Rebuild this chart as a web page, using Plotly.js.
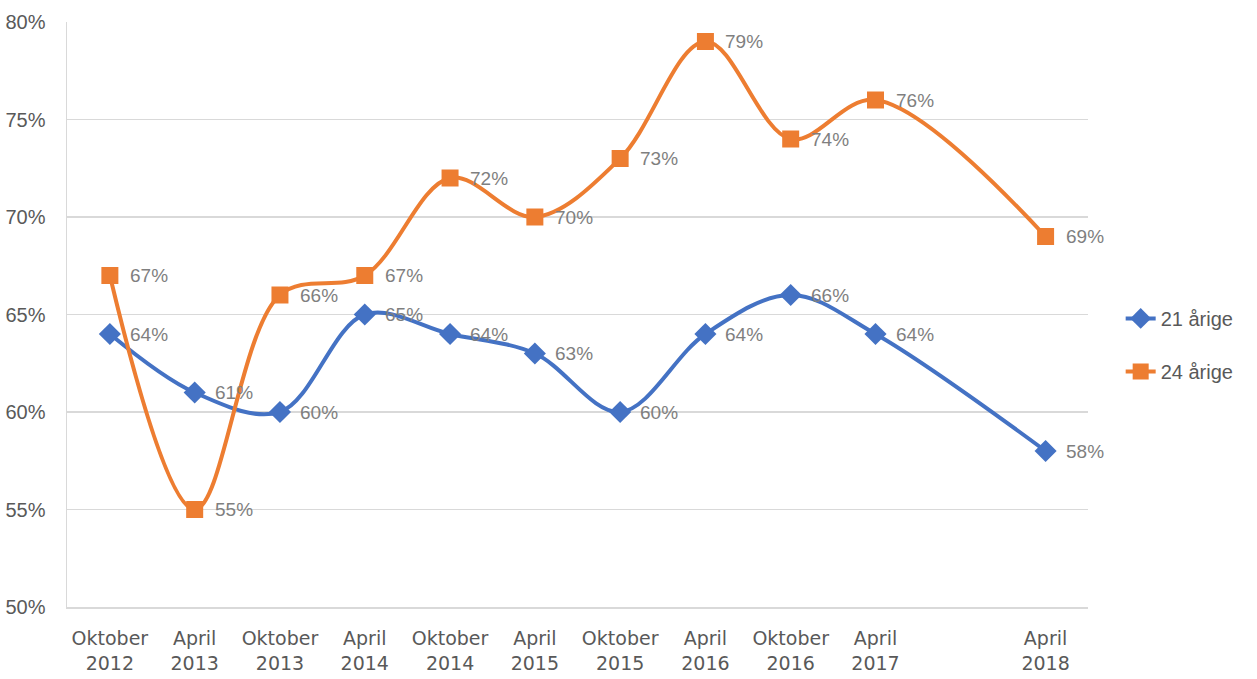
<!DOCTYPE html>
<html>
<head>
<meta charset="utf-8">
<script src="https://cdn.plot.ly/plotly-3.0.1.min.js"></script>
<style>html,body{margin:0;padding:0;background:#fff;}#chart{width:1257px;height:679px;}</style>
</head>
<body>
<div id="chart"></div>
<script>
const dates = ['2012-10-01','2013-04-01','2013-10-01','2014-04-01','2014-10-01','2015-04-01','2015-10-01','2016-04-01','2016-10-01','2017-04-01','2018-04-01'];
const tickLabels = ['Oktober<br>2012','April<br>2013','Oktober<br>2013','April<br>2014','Oktober<br>2014','April<br>2015','Oktober<br>2015','April<br>2016','Oktober<br>2016','April<br>2017','April<br>2018'];
const s21Name = '21 årige';
const s24Name = '24 årige';
const s21 = [64,61,60,65,64,63,60,64,66,64,58];
const s24 = [67,55,66,67,72,70,73,79,74,76,69];
const yTicks = [50,55,60,65,70,75,80];

const blue = '#4472C4', orange = '#ED7D31';
const labFont = {family:'"Liberation Sans", sans-serif', size:19, color:'#7f7f7f'};

const traces = [
  {x:dates, y:s21, name:s21Name, legendgroup:'a', mode:'lines+markers', line:{color:blue, width:4, shape:'spline', smoothing:1},
   marker:{symbol:'diamond', size:17, color:blue}},
  {x:dates, y:s24, name:s24Name, legendgroup:'b', mode:'lines+markers', line:{color:orange, width:4, shape:'spline', smoothing:1},
   marker:{symbol:'square', size:17, color:orange}}
];

const annotations = [];
[s21, s24].forEach(arr => arr.forEach((v,i) => {
  annotations.push({x:dates[i], y:v, text:v+'%', showarrow:false, xanchor:'left', yanchor:'middle', xshift:18, font:labFont});
}));

const layout = {
  width:1257, height:679,
  margin:{l:67, r:169, t:22, b:72},
  paper_bgcolor:'#fff', plot_bgcolor:'#fff',
  showlegend:true,
  legend:{x:1.032, y:0.448, xanchor:'left', yanchor:'middle', traceorder:'grouped', tracegroupgap:24,
    font:{family:'"Liberation Sans", sans-serif', size:20, color:'#595959'}},
  xaxis:{type:'date', range:['2012-07-01','2018-07-01'], tickmode:'array', tickvals:dates, ticktext:tickLabels,
    showgrid:false, showline:true, linecolor:'#d9d9d9', linewidth:1.5, ticks:'', zeroline:false,
    tickfont:{family:'"DejaVu Sans", sans-serif', size:19, color:'#595959'}, ticklabelstandoff:14},
  yaxis:{range:[50,80], tickmode:'array', tickvals:yTicks, ticktext:yTicks.map(v=>v+'%'),
    showgrid:true, gridcolor:'#d9d9d9', gridwidth:1.5, showline:true, linecolor:'#d9d9d9', linewidth:1.5, zeroline:false, ticks:'',
    tickfont:{family:'"Liberation Sans", sans-serif', size:20, color:'#595959'}, ticklabelstandoff:16},
  annotations:annotations
};
Plotly.newPlot('chart', traces, layout, {displayModeBar:false, staticPlot:true});
</script>
</body>
</html>
